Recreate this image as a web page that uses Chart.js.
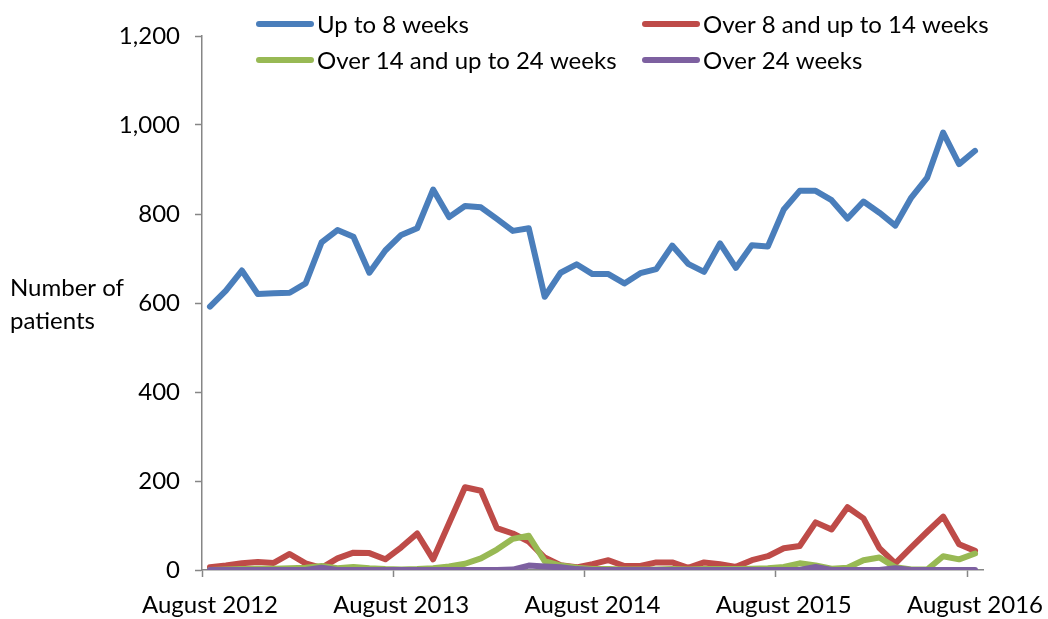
<!DOCTYPE html>
<html>
<head>
<meta charset="utf-8">
<script src="https://cdn.jsdelivr.net/npm/chart.js@4"></script>
<style>
    html, body { margin: 0; padding: 0; background: #fff; }
    #wrap { width: 1048px; height: 619px; position: relative; }
</style>
</head>
<body>
<div id="wrap"><canvas id="waitChart"></canvas></div>
<script>
// Monthly categories, August 2012 to August 2016
const months = [
    'August 2012', 'September 2012', 'October 2012', 'November 2012', 'December 2012',
    'January 2013', 'February 2013', 'March 2013', 'April 2013', 'May 2013', 'June 2013', 'July 2013',
    'August 2013', 'September 2013', 'October 2013', 'November 2013', 'December 2013',
    'January 2014', 'February 2014', 'March 2014', 'April 2014', 'May 2014', 'June 2014', 'July 2014',
    'August 2014', 'September 2014', 'October 2014', 'November 2014', 'December 2014',
    'January 2015', 'February 2015', 'March 2015', 'April 2015', 'May 2015', 'June 2015', 'July 2015',
    'August 2015', 'September 2015', 'October 2015', 'November 2015', 'December 2015',
    'January 2016', 'February 2016', 'March 2016', 'April 2016', 'May 2016', 'June 2016', 'July 2016',
    'August 2016'
];

const upTo8Weeks = [592, 628, 673, 620, 622, 623, 644, 736, 764, 749, 668, 718,
    753, 768, 855, 793, 818, 815, 789, 762, 768, 614, 668, 687,
    665, 665, 644, 667, 676, 729, 688, 670, 734, 679, 730, 727,
    810, 852, 852, 831, 790, 828, 803, 774, 837, 882, 983, 912, 942];

const over8UpTo14 = [6, 10, 15, 18, 16, 36, 15, 5, 26, 39, 38, 24,
    51, 82, 24, 105, 186, 178, 94, 82, 64, 28, 11, 6,
    13, 22, 9, 9, 17, 17, 5, 17, 13, 7, 22, 31,
    49, 54, 107, 91, 141, 116, 49, 15, 51, 86, 120, 58, 43];

const over14UpTo24 = [0, 1, 2, 3, 3, 4, 5, 9, 4, 7, 4, 2,
    1, 2, 4, 8, 14, 26, 46, 70, 77, 20, 10, 5,
    2, 2, 1, 1, 1, 2, 1, 2, 2, 2, 3, 4,
    7, 15, 10, 3, 5, 22, 28, 6, 1, 1, 31, 24, 37];

const over24Weeks = [0, 0, 0, 0, 0, 0, 0, 5, 0, 0, 0, 0,
    0, 0, 0, 0, 0, 0, 0, 1, 10, 8, 6, 2,
    0, 0, 0, 0, 0, 0, 0, 0, 0, 0, 0, 0,
    0, 0, 7, 0, 0, 0, 0, 4, 0, 0, 0, 0, 0];

const seriesNames = ['Up to 8 weeks', 'Over 8 and up to 14 weeks', 'Over 14 and up to 24 weeks', 'Over 24 weeks'];
const seriesColors = ['#4A7EBB', '#BE4B48', '#98B954', '#7D60A0'];
const yTicks = [0, 200, 400, 600, 800, 1000, 1200];

const FONT = 'Lato, "Open Sans", sans-serif';
const AXIS_GREY = '#868686';

// Legend in two rows of two, drawn by hand to match the original layout
const legendPlugin = {
    id: 'gridLegend',
    afterDraw(chart) {
        const ctx = chart.ctx;
        const cols = [257, 643];
        const rows = [24, 60];
        ctx.save();
        ctx.font = `24px ${FONT}`;
        ctx.fillStyle = '#000';
        ctx.textBaseline = 'middle';
        chart.data.datasets.forEach((ds, i) => {
            const x = cols[i % 2];
            const y = rows[Math.floor(i / 2)];
            ctx.strokeStyle = ds.borderColor;
            ctx.lineWidth = 6;
            ctx.lineCap = 'round';
            ctx.beginPath();
            ctx.moveTo(x + 2, y);
            ctx.lineTo(x + 54, y);
            ctx.stroke();
            ctx.fillText(ds.label, x + 60, y + 1);
        });
        ctx.restore();
    }
};

// Horizontal y-axis title at the left
const yTitlePlugin = {
    id: 'yTitle',
    afterDraw(chart) {
        const ctx = chart.ctx;
        ctx.save();
        ctx.font = `24px ${FONT}`;
        ctx.fillStyle = '#000';
        ctx.textBaseline = 'alphabetic';
        ctx.fillText('Number of', 10, 296);
        ctx.fillText('patients', 10, 329);
        ctx.restore();
    }
};

const datasets = [upTo8Weeks, over8UpTo14, over14UpTo24, over24Weeks].map((values, i) => ({
    label: seriesNames[i],
    data: values,
    borderColor: seriesColors[i],
    backgroundColor: seriesColors[i],
    borderWidth: 6,
    borderJoinStyle: 'round',
    borderCapStyle: 'round',
    pointRadius: 0,
    tension: 0,
    order: 3 - i
}));

new Chart(document.getElementById('waitChart'), {
    type: 'line',
    data: { labels: months, datasets },
    options: {
        responsive: true,
        maintainAspectRatio: false,
        animation: false,
        devicePixelRatio: 1,
        layout: { padding: { left: 0, right: 65, top: 36, bottom: 0 } },
        plugins: {
            legend: { display: false },
            tooltip: { enabled: false }
        },
        scales: {
            x: {
                type: 'category',
                offset: true,
                grid: {
                    offset: true,
                    drawOnChartArea: false,
                    tickLength: 7,
                    tickWidth: 1.5,
                    tickColor: (c) => (c.index !== undefined && c.index % 12 === 0) ? AXIS_GREY : 'rgba(0,0,0,0)'
                },
                border: { color: AXIS_GREY, width: 1.5 },
                ticks: {
                    autoSkip: false,
                    maxRotation: 0,
                    minRotation: 0,
                    padding: 14,
                    color: '#000',
                    font: { family: FONT, size: 24 },
                    callback: (v, i) => i % 12 === 0 ? months[i] : ''
                },
                afterFit: (s) => { s.height = 49; s.paddingLeft = 0; s.paddingRight = 0; }
            },
            y: {
                min: 0,
                max: 1200,
                afterBuildTicks: (s) => { s.ticks = yTicks.map(v => ({ value: v })); },
                grid: {
                    drawOnChartArea: false,
                    tickLength: 7,
                    tickWidth: 1.5,
                    tickColor: AXIS_GREY
                },
                border: { color: AXIS_GREY, width: 1.5 },
                ticks: {
                    padding: 15,
                    color: '#000',
                    font: { family: FONT, size: 24 },
                    callback: (v) => v.toLocaleString('en-US')
                },
                afterFit: (s) => { s.width = 202; s.paddingTop = 0; s.paddingBottom = 0; }
            }
        }
    },
    plugins: [legendPlugin, yTitlePlugin]
});
</script>
</body>
</html>
